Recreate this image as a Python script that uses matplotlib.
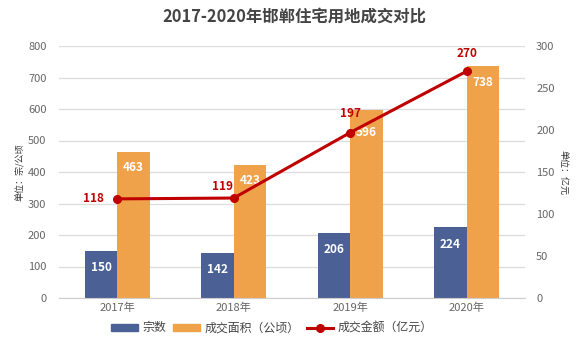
import matplotlib
matplotlib.use("Agg")
import matplotlib.pyplot as plt
import numpy as np
from matplotlib.lines import Line2D
from matplotlib.patches import Patch

plt.rcParams['font.family'] = ['Noto Sans CJK SC', 'DejaVu Sans']

years = ['2017年', '2018年', '2019年', '2020年']
counts = [150, 142, 206, 224]
area = [463, 423, 596, 738]
amount = [118, 119, 197, 270]

title = '2017-2020年邯郸住宅用地成交对比'
left_label = '单位：宗/公顷'
right_label = '单位：亿元'
legend_labels = ['宗数', '成交面积（公顷）', '成交金额（亿元）']

blue = '#4B6196'
orange = '#F0A24B'
red = '#C00000'
gray = '#666666'

fig = plt.figure(figsize=(5.88, 3.57), dpi=100)
ax = fig.add_axes([59/588, 1-298/357, 466/588, 252/357])
ax2 = ax.twinx()

x = np.arange(len(years))
w = 0.28
b1 = ax.bar(x - w/2, counts, w, color=blue, zorder=2)
b2 = ax.bar(x + w/2, area, w, color=orange, zorder=2)

bar_offsets = [-12, -12, -12, -12, -11, -11, -16, -12]
for rect, v, off in zip(list(b1) + list(b2), counts + area, bar_offsets):
    ax.annotate(str(v), (rect.get_x() + rect.get_width()/2, rect.get_height()),
                xytext=(0, off), textcoords='offset points', ha='center', va='center',
                color='white', fontsize=8.5, fontweight='bold', zorder=3)

ax.set_xlim(-0.5, 3.5)
ax.set_ylim(0, 800)
ax.set_yticks(range(0, 801, 100))
ax2.set_ylim(0, 300)
ax2.set_yticks(range(0, 301, 50))
ax.set_xticks(x)
ax.set_xticklabels(years)

ax2.plot(x, amount, color=red, lw=2.2, marker='o', ms=5.5, zorder=4)
offsets = [(-17, 0), (-8, 8), (0, 14), (0, 13)]
for xi, v, off in zip(x, amount, offsets):
    ax2.annotate(str(v), (xi, v), xytext=off, textcoords='offset points',
                 ha='center', va='center', color=red, fontsize=8.5, fontweight='bold')

ax.grid(axis='y', color='#DCDCDC', lw=0.9, zorder=0)
ax.set_axisbelow(True)
for a in (ax, ax2):
    for s in a.spines.values():
        s.set_visible(False)
    a.tick_params(length=0, labelsize=8, labelcolor=gray)
ax.spines['bottom'].set_visible(True)
ax.spines['bottom'].set_color('#CCCCCC')
ax.tick_params(axis='y', pad=9)
ax2.tick_params(axis='y', pad=8)
ax.tick_params(axis='x', pad=3)

fig.text(20/588, 1-172/357, left_label, rotation=90, ha='center', va='center',
         fontsize=6.5, color='#333333')
fig.text(563/588, 1-172/357, right_label, rotation=270, ha='center', va='center',
         fontsize=6.5, color='#333333')
fig.text(0.5, 1-17/357, title, ha='center', va='center', fontsize=11.8,
         fontweight='bold', color='#444444')

handles = [Patch(color=blue), Patch(color=orange),
           Line2D([0], [0], color=red, lw=2.2, marker='o', ms=5.5)]
fig.legend(handles, legend_labels, loc='center', bbox_to_anchor=(272/588, 1-328/357),
           ncol=3, frameon=False, fontsize=8.6, handlelength=2.2, handleheight=0.5,
           columnspacing=0.6, handletextpad=0.4, labelcolor='#444444')

fig.savefig('out.png', dpi=100)
